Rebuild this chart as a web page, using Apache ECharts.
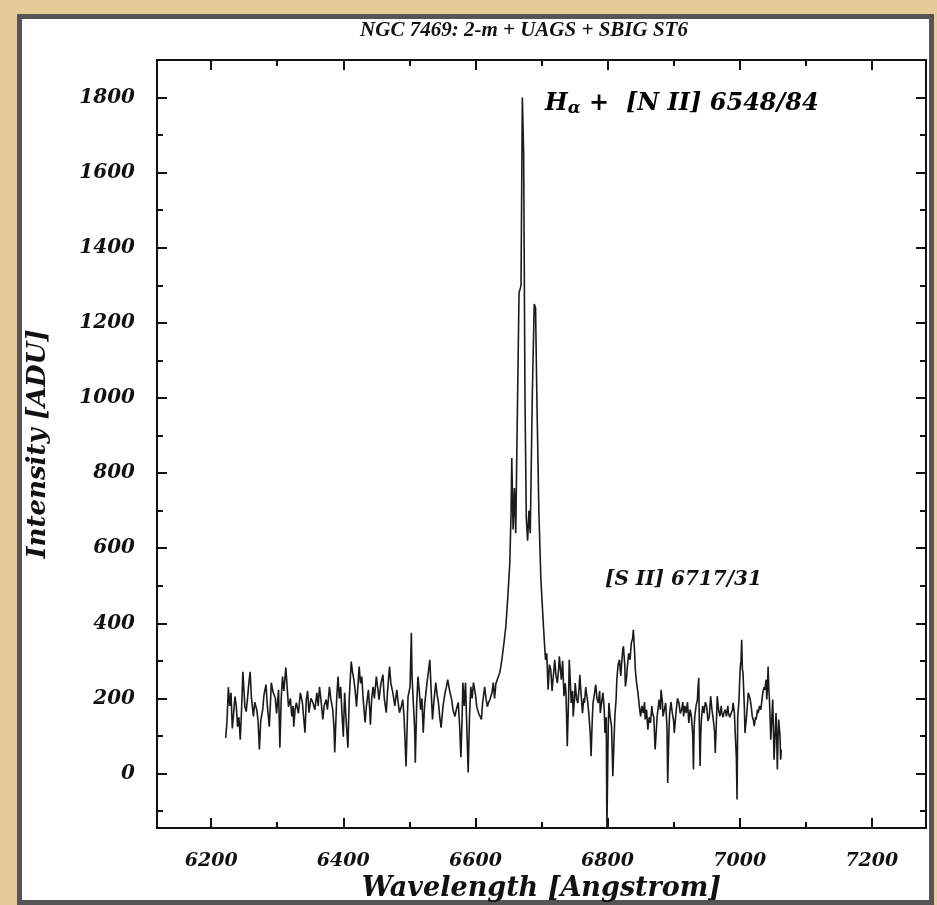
<!DOCTYPE html>
<html>
<head>
<meta charset="utf-8">
<script src="https://cdn.jsdelivr.net/npm/echarts@6/dist/echarts.min.js"></script>
<style>
html,body{margin:0;padding:0;background:#e6cb98;}
#chart{width:937px;height:905px;}
</style>
</head>
<body>
<div id="chart"></div>
<script>
// Spectrum: [wavelength (Angstrom), intensity (ADU)]
const leftContinuum = [
 [6222,95],[6224,140],[6226,230],[6228,180],[6230,215],[6232,120],[6234,160],[6236,205],[6238,180],[6240,125],
 [6242,150],[6244,90],[6246,170],[6248,271],[6250,210],[6251,178],[6253,165],[6255,200],[6257,240],[6259,271],
 [6261,200],[6264,152],[6266,190],[6269,170],[6271,140],[6273,64],[6275,140],[6278,170],[6280,210],[6283,237],
 [6285,180],[6288,125],[6290,200],[6291,242],[6294,215],[6297,202],[6299,160],[6302,223],[6304,69],[6306,200],
 [6308,258],[6310,220],[6313,282],[6315,230],[6317,178],[6320,200],[6322,152],[6324,180],[6325,125],[6327,170],
 [6329,189],[6332,160],[6335,215],[6338,190],[6340,150],[6342,109],[6344,197],[6346,220],[6348,162],[6351,200],
 [6354,189],[6357,170],[6360,215],[6362,180],[6364,231],[6366,200],[6369,144],[6371,180],[6374,197],[6376,170],
 [6379,231],[6381,200],[6384,170],[6386,120],[6387,56],[6390,200],[6392,258],[6394,200],[6396,231],[6398,160],
 [6400,98],[6402,215],[6404,150],[6407,69],[6409,200],[6412,298],[6414,270],[6416,250],[6418,220],[6420,178],
 [6422,230],[6424,285],[6426,240],[6428,258],[6430,200],[6433,136],[6435,180],[6438,223],[6440,170],[6441,130],
 [6443,200],[6445,231],[6447,200],[6450,258],[6452,230],[6454,197],[6457,240],[6460,263],[6462,200],[6465,162],
 [6467,220],[6470,285],[6472,240],[6475,215],[6478,180],[6481,223],[6483,190],[6485,162],[6488,180],[6490,197],
 [6492,150],[6495,19],[6497,150],[6498,205],[6501,230],[6503,375],[6504,260],[6506,189],[6508,120],[6509,29],
 [6511,180],[6513,258],[6515,220],[6517,170],[6519,200],[6521,109],[6523,180],[6526,231],[6528,260],[6531,303],
 [6533,220],[6535,144],[6537,190],[6540,242],[6542,210],[6544,189],[6546,150],[6548,122],[6551,180],[6554,215],
 [6556,230],[6558,250],[6561,220],[6564,197],[6566,170],[6569,152],[6571,170],[6574,189],[6576,130],[6578,43],
 [6580,160],[6581,242],[6583,180],[6585,242],[6587,120],[6589,3],[6591,150],[6593,231],[6595,200],[6597,242],
 [6600,210],[6602,178],[6605,160],[6609,144],[6611,190],[6614,231],[6616,200],[6618,178],[6620,190],[6622,197],
 [6625,215],[6627,242],[6629,200],[6631,240],[6634,242]
];
const halphaComplex = [
 [6637,270],[6640,303],[6643,345],[6646,391],[6649,470],[6652,560],[6654,700],[6655,840],[6657,650],[6659,760],
 [6661,640],[6663,900],[6666,1280],[6669,1300],[6671,1800],[6673,1650],[6675,1000],[6677,680],[6679,620],[6681,700],
 [6683,640],[6686,1000],[6689,1250],[6691,1240],[6693,1000],[6696,700],[6699,520],[6701,455],[6703,391],[6706,303]
];
const rightContinuum = [
 [6708,320],[6710,223],[6712,290],[6714,277],[6716,220],[6717,241],[6719,280],[6720,303],[6722,260],[6724,241],
 [6726,280],[6727,312],[6729,270],[6730,250],[6732,300],[6734,206],[6736,240],[6737,215],[6738,150],[6739,73],
 [6741,200],[6742,303],[6744,230],[6745,188],[6747,220],[6748,152],[6750,200],[6751,241],[6753,200],[6755,188],
 [6757,230],[6758,263],[6760,210],[6762,161],[6764,200],[6765,188],[6767,230],[6768,215],[6770,190],[6772,152],
 [6774,100],[6775,46],[6777,150],[6778,188],[6780,210],[6782,237],[6784,200],[6786,188],[6788,220],[6789,161],
 [6791,190],[6793,215],[6795,170],[6796,108],[6798,150],[6799,-145],[6801,120],[6802,188],[6804,150],[6806,126],
 [6808,-7],[6810,100],[6811,152],[6813,200],[6814,250],[6816,290],[6818,303],[6820,260],[6821,286],[6823,330],
 [6824,339],[6826,290],[6827,232],[6829,260],[6830,286],[6832,320],[6834,303],[6836,348],[6838,360],[6839,383],
 [6841,320],[6842,277],[6844,240],[6846,215],[6848,180],[6850,152],[6852,180],[6854,161],[6856,190],[6857,144],
 [6859,170],[6861,117],[6863,150],[6865,135],[6867,180],[6868,161],[6870,150],[6872,64],[6874,120],[6875,152],
 [6877,180],[6878,197],[6880,170],[6881,223],[6883,190],[6884,152],[6886,170],[6888,188],[6890,120],[6891,-25],
 [6893,120],[6894,161],[6896,190],[6898,161],[6900,140],[6901,108],[6903,150],[6904,170],[6906,200],[6908,188],
 [6910,160],[6912,170],[6914,190],[6915,152],[6917,180],[6919,161],[6921,190],[6923,135],[6925,170],[6927,152],
 [6929,100],[6930,11],[6931,120],[6932,152],[6934,180],[6936,197],[6937,230],[6938,255],[6939,120],[6940,20],
 [6941,100],[6942,144],[6944,180],[6946,161],[6948,190],[6950,179],[6952,140],[6954,152],[6955,180],[6956,206],
 [6958,170],[6960,144],[6962,110],[6963,55],[6965,150],[6966,206],[6968,170],[6970,152],[6972,180],[6973,161],
 [6975,150],[6976,161],[6978,170],[6980,152],[6982,180],[6983,161],[6985,150],[6987,152],[6989,170],[6990,188],
 [6992,160],[6993,117],[6995,40],[6996,-69],[6997,150],[6999,197],[7000,250],[7001,286],[7002,300],[7003,356],
 [7004,280],[7005,268],[7007,180],[7008,108],[7009,130],[7010,144],[7012,190],[7013,215],[7015,210],[7016,197],
 [7018,170],[7019,152],[7021,140],[7022,126],[7024,150],[7025,144],[7027,170],[7028,161],[7030,180],[7032,170],
 [7034,200],[7035,215],[7037,230],[7038,223],[7040,250],[7041,197],[7042,230],[7043,285],[7044,230],[7045,197],
 [7046,150],[7047,90],[7049,160],[7050,197],[7051,120],[7052,37],[7054,120],[7055,161],[7056,100],[7057,11],
 [7058,90],[7059,144],[7061,100],[7062,37],[7063,64]
];
const xMajorTicks = [6200,6400,6600,6800,7000,7200];
const xMinorTicks = [6300,6500,6700,6900,7100];
const yMajorTicks = [0,200,400,600,800,1000,1200,1400,1600,1800];
const yMinorTicks = [-100,100,300,500,700,900,1100,1300,1500,1700];
const titleText = 'NGC 7469: 2-m + UAGS + SBIG ST6';
const xName = 'Wavelength [Angstrom]';
const yName = 'Intensity [ADU]';

const chart = echarts.init(document.getElementById('chart'), null, {renderer:'canvas'});
const serif = 'DejaVu Serif';
const X_MIN = 6118, X_MAX = 7282, Y_MIN = -145, Y_MAX = 1900;
const lineCol = '#111';

function xAx(pos, ticks, len, labels, name){
  return {
    type:'value', position:pos, min:X_MIN, max:X_MAX, gridIndex:0,
    axisLine:{show:true, onZero:false, lineStyle:{color:lineCol, width:2}},
    axisTick:{show:true, inside:true, length:len, customValues:ticks, lineStyle:{color:lineCol, width:2}},
    axisLabel:{show:labels, customValues:ticks, margin:24, formatter:v=>String(v),
      color:'#111', fontFamily:serif, fontStyle:'italic', fontWeight:'bold', fontSize:19},
    splitLine:{show:false},
    name: name || '', nameLocation:'middle', nameGap:47,
    nameTextStyle:{color:'#111', fontFamily:serif, fontStyle:'italic', fontWeight:'bold', fontSize:27}
  };
}
function yAx(pos, ticks, len, labels, name){
  return {
    type:'value', position:pos, min:Y_MIN, max:Y_MAX, gridIndex:0,
    axisLine:{show:true, onZero:false, lineStyle:{color:lineCol, width:2}},
    axisTick:{show:true, inside:true, length:len, customValues:ticks, lineStyle:{color:lineCol, width:2}},
    axisLabel:{show:labels, customValues:ticks, margin:22, formatter:v=>String(v),
      color:'#111', fontFamily:serif, fontStyle:'italic', fontWeight:'bold', fontSize:20},
    splitLine:{show:false},
    name: name || '', nameLocation:'middle', nameGap:106, nameRotate:90,
    nameTextStyle:{color:'#111', fontFamily:serif, fontStyle:'italic', fontWeight:'bold', fontSize:26}
  };
}

const option = {
  backgroundColor:'#e6cb98',
  animation:false,
  grid:{left:157, right:11, top:60, bottom:77, show:false, containLabel:false, outerBoundsMode:'none'},
  graphic:[
    {type:'rect', z:-100, silent:true, shape:{x:19.5, y:16.5, width:912, height:886},
     style:{fill:'#ffffff', stroke:'#555', lineWidth:5}},
    {type:'text', z:10, silent:true, x:524, y:31,
     style:{text:titleText, align:'center', verticalAlign:'middle',
       fontFamily:'Liberation Serif', fontSize:21, fontStyle:'italic', fontWeight:'bold', fill:'#111'}},
    {type:'text', z:10, silent:true, x:545, y:104,
     style:{verticalAlign:'middle',
       text:'{h|H}{s|α}{t| +  [N II] 6548/84}',
       rich:{
         h:{fontFamily:serif, fontSize:24, fontStyle:'italic', fontWeight:'bold', color:'#111'},
         s:{fontFamily:serif, fontSize:17, fontStyle:'italic', fontWeight:'bold', color:'#111', padding:[9,0,0,0]},
         t:{fontFamily:serif, fontSize:24, fontStyle:'italic', fontWeight:'bold', color:'#111'}
       }}},
    {type:'text', z:10, silent:true, x:605, y:580,
     style:{verticalAlign:'middle', text:'[S II] 6717/31',
       fontFamily:serif, fontSize:20, fontStyle:'italic', fontWeight:'bold', fill:'#111'}}
  ],
  xAxis:[
    xAx('bottom', xMajorTicks, 10, true, xName),
    xAx('bottom', xMinorTicks, 6, false),
    xAx('top', xMajorTicks, 10, false),
    xAx('top', xMinorTicks, 6, false)
  ],
  yAxis:[
    yAx('left', yMajorTicks, 10, true, yName),
    yAx('left', yMinorTicks, 6, false),
    yAx('right', yMajorTicks, 10, false),
    yAx('right', yMinorTicks, 6, false)
  ],
  series:[{
    type:'line', xAxisIndex:0, yAxisIndex:0,
    data: leftContinuum.concat(halphaComplex, rightContinuum),
    showSymbol:false, symbol:'none', clip:true,
    lineStyle:{color:'#1a1a1a', width:1.6}
  }]
};
chart.setOption(option);
</script>
</body>
</html>
